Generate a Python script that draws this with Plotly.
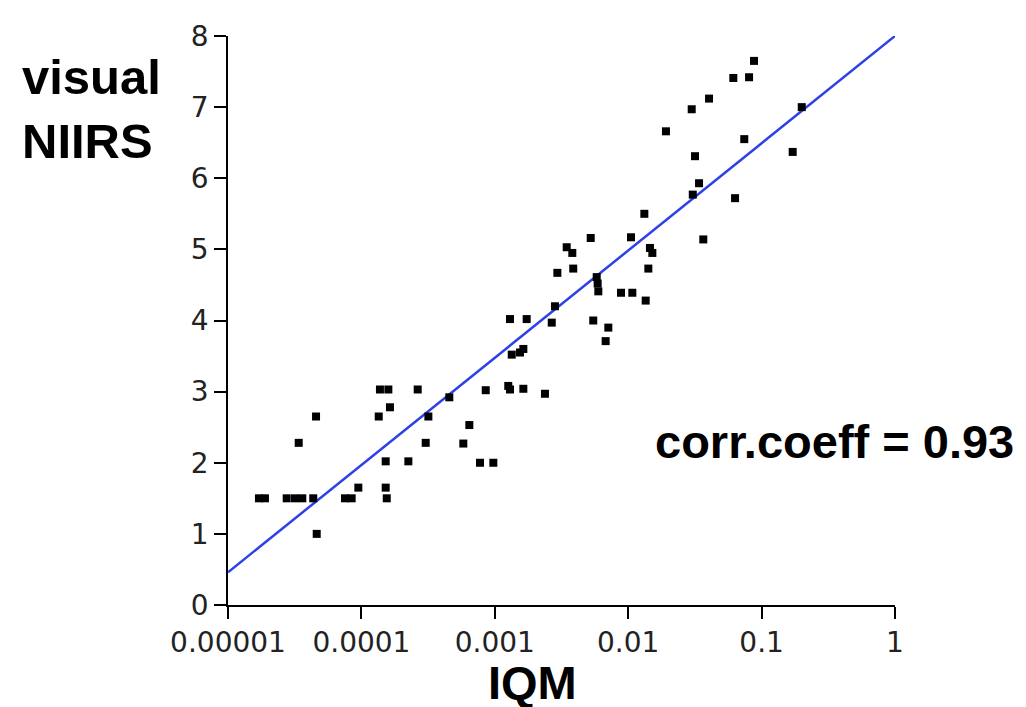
import numpy as np
import plotly.graph_objects as go

log_iqm = [-4.768, -4.723, -4.560, -4.498, -4.443, -4.361, -4.335, -4.340, -4.470,
           -4.123, -4.073, -4.023, -3.818, -3.810, -3.818, -3.648, -3.870, -3.786,
           -3.861, -3.798, -3.578, -3.498, -3.518, -3.341, -3.236, -3.191, -3.111,
           -3.011, -3.068, -2.899, -2.886, -2.786, -2.624, -2.886, -2.761, -2.873,
           -2.811, -2.786, -2.573, -2.549, -2.531, -2.412, -2.461, -2.419, -2.281,
           -2.236, -2.229, -2.224, -2.262, -2.149, -2.169, -2.054, -1.969, -1.869,
           -1.979, -1.837, -1.819, -1.849, -1.879, -1.717, -1.524, -1.394, -1.212,
           -1.094, -1.057, -1.499, -1.469, -1.516, -1.199, -1.437, -1.130, -0.767,
           -0.699]
niirs = [1.5, 1.5, 1.5, 1.5, 1.5, 1.5, 1.0, 2.65, 2.28,
         1.5, 1.5, 1.65, 1.65, 1.5, 2.02, 2.02, 2.65, 2.78,
         3.03, 3.03, 3.03, 2.65, 2.28, 2.92, 2.27, 2.53, 2.0,
         2.0, 3.02, 3.08, 3.03, 3.04, 2.97, 4.02, 4.02, 3.52,
         3.55, 3.60, 3.97, 4.20, 4.67, 4.73, 5.03, 4.95, 5.16,
         4.61, 4.52, 4.41, 4.00, 3.90, 3.71, 4.39, 4.39, 4.28,
         5.17, 5.02, 4.95, 4.73, 5.50, 6.66, 6.97, 7.12, 7.41,
         7.42, 7.65, 6.31, 5.93, 5.77, 5.72, 5.14, 6.55, 6.37,
         7.00]
iqm = [10 ** v for v in log_iqm]

# regression line end points
fit_x = [1e-5, 1.0]
fit_y = [0.46, 8.0]

tick_vals = [1e-5, 1e-4, 1e-3, 1e-2, 1e-1, 1]
tick_text = ["0.00001", "0.0001", "0.001", "0.01", "0.1", "1"]
y_ticks = [0, 1, 2, 3, 4, 5, 6, 7, 8]

fig = go.Figure()
fig.add_trace(go.Scatter(x=fit_x, y=fit_y, mode="lines",
                         line=dict(color="rgb(45,65,230)", width=2.5),
                         showlegend=False, hoverinfo="skip"))
fig.add_trace(go.Scatter(x=iqm, y=niirs, mode="markers",
                         marker=dict(symbol="square", size=8, color="black"),
                         showlegend=False))

bold_font = "Liberation Sans, Arial, Helvetica, sans-serif"
tick_font = "DejaVu Sans, sans-serif"
fig.update_layout(
    width=1026, height=707,
    margin=dict(l=220, r=139, t=22, b=110),
    plot_bgcolor="white", paper_bgcolor="white",
    font=dict(family=bold_font, color="black"),
    xaxis=dict(type="log", range=[-5, 0], tickvals=tick_vals, ticktext=tick_text,
               showgrid=False, zeroline=False, showline=True, linecolor="black",
               linewidth=1.5, ticks="outside", ticklen=12, tickwidth=1.5,
               tickcolor="black", tickfont=dict(family=tick_font, size=28, color="#222")),
    yaxis=dict(range=[0, 8], tickvals=y_ticks, showgrid=False, zeroline=False,
               showline=True, linecolor="black", linewidth=1.5, ticks="outside",
               ticklen=12, tickwidth=1.5, tickcolor="black",
               tickfont=dict(family=tick_font, size=28, color="#222")),
    annotations=[
        dict(text="<b>visual<br>NIIRS</b>", xref="paper", yref="paper",
             x=-0.312, y=0.872, xanchor="left", yanchor="middle", align="left",
             showarrow=False, font=dict(size=49, color="black")),
        dict(text="<b>IQM</b>", xref="paper", yref="paper", x=0.457, y=-0.137,
             xanchor="center", yanchor="middle", showarrow=False,
             font=dict(size=47, color="black")),
        dict(text="<b>corr.coeff = 0.93</b>", xref="paper", yref="paper",
             x=1.182, y=0.287, xanchor="right", yanchor="middle", showarrow=False,
             font=dict(size=47, color="black")),
    ],
)
fig.write_html("out.html")
